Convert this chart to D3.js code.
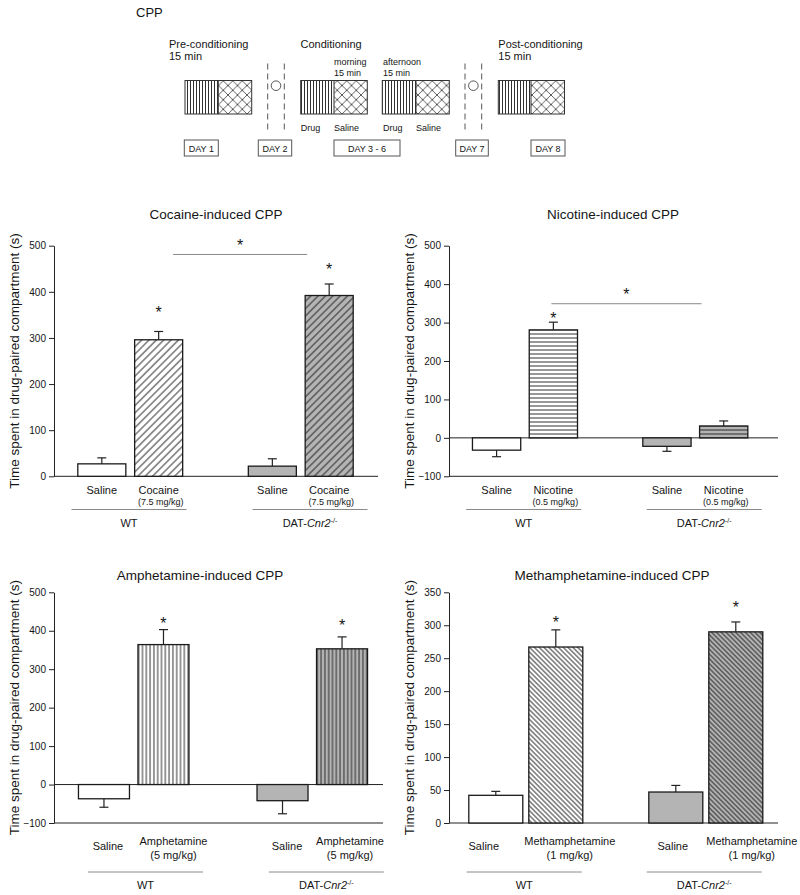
<!DOCTYPE html>
<html><head><meta charset="utf-8">
<script src="https://cdn.jsdelivr.net/npm/d3@7"></script>
<style>
body{margin:0;background:#fff;}
text{font-family:Arial,"Liberation Sans",sans-serif;fill:#151515;}
</style>
</head><body>
<svg id="chart" width="800" height="895"></svg>
<script>
// ---------------- DATA ----------------
const slots = ["WT Saline", "WT Drug", "gap", "DAT Saline", "DAT Drug"];
const barSlots = ["WT Saline", "WT Drug", "DAT Saline", "DAT Drug"];
const groups = ["WT", "DAT"];
const panelTitles = ["Cocaine-induced CPP", "Nicotine-induced CPP", "Amphetamine-induced CPP", "Methamphetamine-induced CPP"];
const drugNames = ["Cocaine", "Nicotine", "Amphetamine", "Methamphetamine"];
const drugDoses = ["(7.5 mg/kg)", "(0.5 mg/kg)", "(5 mg/kg)", "(1 mg/kg)"];

const cocaineMean = [27, 296, 22, 392];
const cocaineSem = [13, 18, 16, 25];
const nicotineMean = [-32, 281, -22, 31];
const nicotineSem = [17, 20, 13, 13];
const amphetamineMean = [-37, 364, -42, 353];
const amphetamineSem = [22, 39, 34, 31];
const methMean = [42, 267, 47, 290];
const methSem = [6, 26, 10, 15];

// significance asterisks: [bar slot, height in data units]
const cocaineStars = [["WT Drug", 363], ["DAT Drug", 456]];
const nicotineStars = [["WT Drug", 320]];
const amphetamineStars = [["WT Drug", 428], ["DAT Drug", 424]];
const methStars = [["WT Drug", 310], ["DAT Drug", 333]];
// between-genotype comparison bracket: [line value, star value]
const cocaineBracket = [481, 508];
const nicotineBracket = [349, 382];

const cocaineTicks = [0, 100, 200, 300, 400, 500];
const nicotineTicks = [-100, 0, 100, 200, 300, 400, 500];
const amphetamineTicks = [-100, 0, 100, 200, 300, 400, 500];
const methTicks = [0, 50, 100, 150, 200, 250, 300, 350];

const yLabel = "Time spent in drug-paired compartment (s)";

// ---------------- LAYOUT ----------------
const svg = d3.select("#chart");
const defs = svg.append("defs");

function linePattern(id, size, rotate, horizontal) {
  const p = defs.append("pattern").attr("id", id)
    .attr("patternUnits", "userSpaceOnUse")
    .attr("width", size).attr("height", size);
  if (rotate) p.attr("patternTransform", `rotate(${rotate})`);
  if (horizontal) {
    p.append("line").attr("x1", 0).attr("x2", size).attr("y1", size / 2).attr("y2", size / 2)
      .attr("stroke", "#1a1a1a").attr("stroke-width", 0.9);
  } else {
    p.append("line").attr("y1", 0).attr("y2", size).attr("x1", size / 2).attr("x2", size / 2)
      .attr("stroke", "#1a1a1a").attr("stroke-width", 0.9);
  }
}
linePattern("pCoc", 5.2, 45, false);
linePattern("pNic", 4, 0, true);
linePattern("pAmp", 3.8, 0, false);
linePattern("pMeth", 3.4, -45, false);
linePattern("pVert", 3, 0, false);
(function () {
  const s = 9.5;
  const p = defs.append("pattern").attr("id", "pCross")
    .attr("patternUnits", "userSpaceOnUse").attr("width", s).attr("height", s)
    .attr("x", 0).attr("y", 0);
  p.append("path").attr("d", `M0,0L${s},${s}M0,${s}L${s},0`)
    .attr("stroke", "#333").attr("stroke-width", 0.8).attr("fill", "none");
})();

const panels = [
  { mean: cocaineMean, sem: cocaineSem, stars: cocaineStars, bracket: cocaineBracket, ticks: cocaineTicks,
    pattern: "pCoc", px: [54, 378], py: [245.7, 476.3], band: [73.4, 357.6], frac: 0.845,
    groupX: [129, 310], labelShift: [0, 0, 0, 0], labelY: 494, doseY: 505, drugY: 494, groupLineY: 509.5, groupY: 526.5,
    titleX: 216, titleY: 219, doseSize: 9, drugSize: 11, yLabX: 19 },
  { mean: nicotineMean, sem: nicotineSem, stars: nicotineStars, bracket: nicotineBracket, ticks: nicotineTicks,
    pattern: "pNic", px: [449, 778], py: [245.7, 476.3], band: [468.2, 752.1], frac: 0.85,
    groupX: [523.7, 704.2], labelShift: [0, 0, 0, 0], labelY: 494, doseY: 505, drugY: 494, groupLineY: 509.5, groupY: 526.5,
    titleX: 613, titleY: 219, doseSize: 9, drugSize: 11, yLabX: 414 },
  { mean: amphetamineMean, sem: amphetamineSem, stars: amphetamineStars, bracket: null, ticks: amphetamineTicks,
    pattern: "pAmp", px: [54, 383], py: [592.3, 823], band: [74.2, 371.8], frac: 0.857,
    groupX: [145.5, 326.3], labelShift: [4, 10, 4.5, 8], labelY: 850, doseY: 859, drugY: 845, groupLineY: 872, groupY: 889,
    titleX: 200, titleY: 580, doseSize: 11, drugSize: 11, yLabX: 19 },
  { mean: methMean, sem: methSem, stars: methStars, bracket: null, ticks: methTicks,
    pattern: "pMeth", px: [449, 778], py: [592.3, 823], band: [465.8, 765.8], frac: 0.9,
    groupX: [524.2, 704.2], labelShift: [-12, 14, -3, 16], labelY: 850, doseY: 859, drugY: 845, groupLineY: 872, groupY: 889,
    titleX: 612, titleY: 580, doseSize: 11, drugSize: 11, yLabX: 414 }
];

const fillBg = { "WT Saline": "#ffffff", "WT Drug": "#ffffff", "DAT Saline": "#b4b4b4", "DAT Drug": "#b4b4b4" };

panels.forEach((P, pi) => {
  const g = svg.append("g");
  const dom = [P.ticks[0], P.ticks[P.ticks.length - 1]];
  const y = d3.scaleLinear().domain(dom).range([P.py[1], P.py[0]]);
  const x = d3.scaleBand().domain(slots).range(P.band)
    .paddingInner(1 - P.frac).paddingOuter((1 - P.frac) / 2);
  const bw = x.bandwidth();
  const cx = s => x(s) + bw / 2;
  const gx = d3.scalePoint().domain(groups).range(P.groupX);

  g.append("text").attr("x", P.titleX).attr("y", P.titleY).attr("text-anchor", "middle")
    .style("font-size", "13.5px").text(panelTitles[pi]);

  g.append("text")
    .attr("transform", `translate(${P.yLabX},${(P.py[0] + P.py[1]) / 2}) rotate(-90)`)
    .attr("text-anchor", "middle").style("font-size", "13.5px").text(yLabel);

  const ax = g.append("g").attr("transform", `translate(${P.px[0]},0)`)
    .call(d3.axisLeft(y).tickValues(P.ticks).tickSize(5).tickPadding(3).tickSizeOuter(0));
  ax.select(".domain").attr("stroke", "#222");
  ax.selectAll(".tick line").attr("stroke", "#222");
  ax.selectAll(".tick text").style("font-size", "10px").style("font-family", "Arial, Liberation Sans, sans-serif").attr("fill", "#222");

  const hLines = [dom[0]];
  if (dom[0] < 0) hLines.push(0);
  hLines.forEach(v => {
    g.append("line").attr("x1", P.px[0]).attr("x2", P.px[1]).attr("y1", y(v)).attr("y2", y(v))
      .attr("stroke", "#222").attr("stroke-width", 1);
  });

  const data = barSlots.map((s, i) => ({ s, v: P.mean[i], e: P.sem[i], drug: s.endsWith("Drug") }));
  const bars = g.append("g");
  data.forEach(d => {
    const top = y(Math.max(0, d.v)), bot = y(Math.min(0, d.v));
    const ev = d.v >= 0 ? d.v + d.e : d.v - d.e;
    bars.append("line").attr("x1", cx(d.s)).attr("x2", cx(d.s)).attr("y1", y(d.v)).attr("y2", y(ev))
      .attr("stroke", "#222").attr("stroke-width", 1.2);
    bars.append("line").attr("x1", cx(d.s) - 4.5).attr("x2", cx(d.s) + 4.5).attr("y1", y(ev)).attr("y2", y(ev))
      .attr("stroke", "#222").attr("stroke-width", 1.2);
    bars.append("rect").attr("x", x(d.s)).attr("y", top).attr("width", bw).attr("height", bot - top)
      .attr("fill", fillBg[d.s]);
    if (d.drug) {
      bars.append("rect").attr("x", x(d.s)).attr("y", top).attr("width", bw).attr("height", bot - top)
        .attr("fill", `url(#${P.pattern})`);
    }
    bars.append("rect").attr("x", x(d.s)).attr("y", top).attr("width", bw).attr("height", bot - top)
      .attr("fill", "none").attr("stroke", "#1a1a1a").attr("stroke-width", 1.3);
  });

  P.stars.forEach(([s, v]) => {
    g.append("text").attr("x", cx(s)).attr("y", y(v) + 9).attr("text-anchor", "middle")
      .style("font-size", "16px").text("*");
  });
  if (P.bracket) {
    const xa = pi === 0 ? cx("WT Drug") + bw * 0.3 : cx("WT Drug") - 2;
    const xb = x("DAT Drug") + 2;
    g.append("line").attr("x1", xa).attr("x2", xb).attr("y1", y(P.bracket[0])).attr("y2", y(P.bracket[0]))
      .attr("stroke", "#888").attr("stroke-width", 1);
    g.append("text").attr("x", (xa + xb) / 2).attr("y", y(P.bracket[1]) + 9).attr("text-anchor", "middle")
      .style("font-size", "16px").text("*");
  }

  barSlots.forEach((s, i) => {
    const xc = cx(s) + P.labelShift[i];
    if (s.endsWith("Saline")) {
      g.append("text").attr("x", xc).attr("y", P.labelY).attr("text-anchor", "middle")
        .style("font-size", "11px").text("Saline");
    } else {
      g.append("text").attr("x", xc).attr("y", P.drugY).attr("text-anchor", "middle")
        .style("font-size", P.drugSize + "px").text(drugNames[pi]);
      g.append("text").attr("x", xc + (P.doseSize < 10 ? 2 : 0)).attr("y", P.doseY).attr("text-anchor", "middle")
        .style("font-size", P.doseSize + "px").text(drugDoses[pi]);
    }
  });

  groups.forEach(gr => {
    const c = gx(gr);
    g.append("line").attr("x1", c - 57.5).attr("x2", c + 57.5).attr("y1", P.groupLineY).attr("y2", P.groupLineY)
      .attr("stroke", "#8a8a8a").attr("stroke-width", 1);
    const t = g.append("text").attr("x", c).attr("y", P.groupY).attr("text-anchor", "middle").style("font-size", "11px");
    if (gr === "WT") t.text("WT");
    else {
      t.append("tspan").text("DAT-");
      t.append("tspan").style("font-style", "italic").text("Cnr2");
      t.append("tspan").attr("dy", -4).style("font-size", "7px").text("-/-");
    }
  });
});

// ---------------- SCHEMATIC ----------------
const sc = svg.append("g");
const txt = (x, y, s, size, anchor) => sc.append("text").attr("x", x).attr("y", y)
  .attr("text-anchor", anchor || "start").style("font-size", size + "px").text(s);

txt(136, 17, "CPP", 13);
txt(169, 48, "Pre-conditioning", 11);
txt(169, 60, "15 min", 11);
txt(300.5, 48, "Conditioning", 11);
txt(334, 65, "morning", 9);
txt(334, 75.5, "15 min", 9);
txt(383, 65, "afternoon", 9);
txt(383, 75.5, "15 min", 9);
txt(498.3, 48, "Post-conditioning", 11);
txt(498.3, 60, "15 min", 11);

const boxes = [[185, 218.3, 251.7], [300.7, 334, 367.3], [382.3, 416, 449.3], [498.3, 531, 564.5]];
boxes.forEach(([a, m, b]) => {
  sc.append("rect").attr("x", a).attr("y", 80.5).attr("width", m - a).attr("height", 33.5).attr("fill", "url(#pVert)");
  sc.append("rect").attr("x", m).attr("y", 80.5).attr("width", b - m).attr("height", 33.5).attr("fill", "url(#pCross)");
  sc.append("rect").attr("x", a).attr("y", 80.5).attr("width", b - a).attr("height", 33.5)
    .attr("fill", "none").attr("stroke", "#333").attr("stroke-width", 1);
  sc.append("line").attr("x1", m).attr("x2", m).attr("y1", 80.5).attr("y2", 114).attr("stroke", "#333");
});

[[267.7, 284.3], [465, 481.7]].forEach(([a, b]) => {
  [a, b].forEach(xv => sc.append("line").attr("x1", xv).attr("x2", xv).attr("y1", 63.5).attr("y2", 130)
    .attr("stroke", "#444").attr("stroke-width", 0.9).attr("stroke-dasharray", "6,4"));
  sc.append("circle").attr("cx", (a + b) / 2).attr("cy", 85.7).attr("r", 4.8)
    .attr("fill", "#fff").attr("stroke", "#444").attr("stroke-width", 0.9);
});

txt(300.7, 131, "Drug", 9);
txt(334, 131, "Saline", 9);
txt(383, 131, "Drug", 9);
txt(416, 131, "Saline", 9);

const dayBoxes = [[184.3, 218.3, "DAY 1"], [258.3, 291.7, "DAY 2"], [334, 400, "DAY 3 - 6"], [455.7, 488.3, "DAY 7"], [531, 565, "DAY 8"]];
dayBoxes.forEach(([a, b, s]) => {
  sc.append("rect").attr("x", a).attr("y", 140).attr("width", b - a).attr("height", 16)
    .attr("fill", "#fff").attr("stroke", "#555").attr("stroke-width", 1);
  txt((a + b) / 2, 151.5, s, 9, "middle");
});
</script>
</body></html>
